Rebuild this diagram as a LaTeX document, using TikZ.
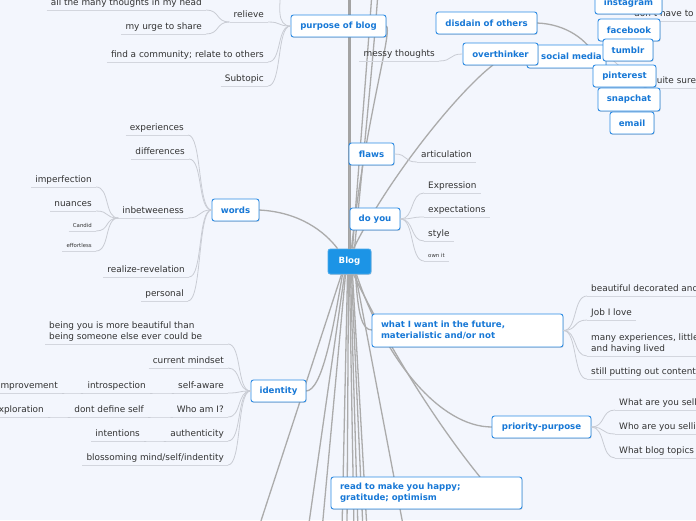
\documentclass[tikz,border=0pt]{standalone}
\usepackage{fontspec}
\setmainfont{DejaVu Sans}
\usetikzlibrary{shadows,calc}
\definecolor{bgc}{HTML}{F3F6FD}
\definecolor{boxb}{HTML}{2C8BE4}
\definecolor{boxt}{HTML}{1778D6}
\definecolor{blogc}{HTML}{1C94E6}
\definecolor{maing}{HTML}{ABABAB}
\definecolor{trunkg}{HTML}{A3A3A3}
\definecolor{clc}{HTML}{C9CCD4}
\definecolor{ulc}{HTML}{D3D6DE}
\definecolor{leafc}{HTML}{333333}
\newcommand\leaffont{\fontsize{8.9}{11}\selectfont}
\newcommand\tinyleaffont{\fontsize{5.4}{6.5}\selectfont}
\newcommand\boxfont{\bfseries\fontsize{8.6}{11}\selectfont}
\tikzset{
  leaf/.style={font=\leaffont, text=leafc, inner xsep=4pt, inner ysep=2pt, text height=6.6pt, text depth=1.9pt},
  leaftwo/.style={font=\leaffont, text=leafc, inner xsep=4pt, inner ysep=2pt, align=left},
  tinyleaf/.style={leaf, font=\tinyleaffont, text height=4.2pt, text depth=1.2pt},
  ul/.style={draw=ulc, line width=1pt},
  cl/.style={draw=clc, line width=0.8pt},
  mainedge/.style={draw=maing, line width=1.3pt},
  trunk/.style={draw=trunkg, line width=3pt},
  box/.style={draw=boxb, line width=0.9pt, fill=white, rounded corners=2.5pt, text=boxt, font=\boxfont,
    inner sep=0pt, minimum height=22pt,
    drop shadow={shadow xshift=0.6pt, shadow yshift=-0.9pt, opacity=0.25, fill=black!60}},
  widebox/.style={box, inner xsep=9pt, text width=173pt, align=left},
}
\newcommand\leafLeft[5][leaf]{\node[#1,anchor=south east] (#2) at (#3,#4) {#5}; \draw[ul] (#2.south west) -- (#2.south east);}
\newcommand\leafRight[5][leaf]{\node[#1,anchor=south west] (#2) at (#3,#4) {#5}; \draw[ul] (#2.south west) -- (#2.south east);}
\newcommand\conL[2]{\draw[cl] (#1) .. controls +(-14,0) and +(14,0) .. (#2);}
\newcommand\conR[2]{\draw[cl] (#1) .. controls +(14,0) and +(-14,0) .. (#2);}
\begin{document}
\begin{tikzpicture}[x=1pt,y=-1pt]
\useasboundingbox (0,0) rectangle (696,520);
\fill[bgc] (0,0) rectangle (696,520);

% ---------- nodes (placed first, drawn on top later via layering order below)
% We define coordinates for free ends
\coordinate (topA) at (349.5,-8);
\coordinate (topB) at (372,-8);
\coordinate (topC) at (378,-8);
\coordinate (pup) at (281,-12);
\coordinate (b1) at (258,530);
\coordinate (b2) at (308,530);
\coordinate (b3) at (322,530);
\coordinate (b4) at (342,530);
\coordinate (b5) at (347,530);
\coordinate (b6) at (354,530);
\coordinate (b7) at (358,530);
\coordinate (b8) at (363,530);
\coordinate (b9) at (367,530);
\coordinate (b10) at (404,530);

% invisible placeholders to name the boxes before edges
\path
  (349.5,261.5) coordinate (cBlog)
  (338.5,26) coordinate (cPurpose)
  (486.5,23) coordinate (cDisdain)
  (500.5,54) coordinate (cOver)
  (566.5,56.5) coordinate (cSocial)
  (371.5,154) coordinate (cFlaws)
  (375,219) coordinate (cDoyou)
  (235.5,210) coordinate (cWords)
  (278.5,391) coordinate (cIdentity)
  (467.5,330.5) coordinate (cWant)
  (541.5,427) coordinate (cPriority)
  (426.5,493) coordinate (cRead);

\node[box, minimum width=43pt, minimum height=25pt, fill=blogc, draw=blogc!80!white, text=white] (Blog) at (cBlog) {Blog};

% ---------- main edges from Blog
\draw[trunk] (Blog.north) -- (topA);
\draw[mainedge] ([xshift=3pt]Blog.north) .. controls (360,150) and (368,50) .. (topB);
\draw[mainedge] ([xshift=5pt]Blog.north) .. controls (364,150) and (374,50) .. (topC);
\draw[mainedge] ([xshift=2pt]Blog.north) .. controls (365,120) and (394,27) .. (386,26) coordinate (purposeEnd);
\draw[mainedge] ([xshift=4pt]Blog.north) .. controls (390,175) and (460,90) .. (493,65) coordinate (overEnd);
\draw[mainedge] ([xshift=-12pt]Blog.north) .. controls (325,232) and (300,212) .. (259,210) coordinate (wordsEnd);
\draw[mainedge] ([xshift=-7pt]Blog.south) .. controls (333,330) and (322,391) .. (306,391) coordinate (identityEnd);
\draw[mainedge] ([xshift=6pt]Blog.south) .. controls (358,315) and (362,330) .. (372,330) coordinate (wantEnd);
\draw[mainedge] ([xshift=7pt]Blog.south) .. controls (385,360) and (440,427) .. (492,427) coordinate (priorityEnd);
\draw[mainedge] ([xshift=4pt]Blog.south) .. controls (400,370) and (450,440) .. (480,477) coordinate (readEnd);
\draw[mainedge] ([xshift=-8pt]Blog.south) -- (b1);
\draw[mainedge] ([xshift=-5pt]Blog.south) -- (b2);
\draw[mainedge] ([xshift=-4pt]Blog.south) -- (b3);
\draw[mainedge] ([xshift=-2pt]Blog.south) -- (b4);
\draw[mainedge] ([xshift=-1pt]Blog.south) -- (b5);
\draw[mainedge] ([xshift=0pt]Blog.south) -- (b6);
\draw[mainedge] ([xshift=1pt]Blog.south) -- (b7);
\draw[mainedge] ([xshift=2pt]Blog.south) -- (b8);
\draw[mainedge] ([xshift=3pt]Blog.south) -- (b9);
\draw[mainedge] ([xshift=6pt]Blog.south) -- (b10);
\draw[mainedge] (Blog.north) -- (cFlaws -| Blog.north);
\draw[mainedge] (486.5,23) ++(50.5,0) .. controls (566,24) and (588,40) .. (596,58);

% ---------- boxes
\node[box, minimum width=95pt] (purpose) at (cPurpose) {purpose of blog};
\node[box, minimum width=101pt] (disdain) at (cDisdain) {disdain of others};
\node[box, minimum width=79pt, minimum height=23pt] (social) at (cSocial) {\hspace*{10pt}social media};
\node[box, minimum width=75pt] (over) at (cOver) {overthinker};
\node[box, minimum width=45pt] (flaws) at (cFlaws) {flaws};
\node[box, minimum width=50pt] (doyou) at (cDoyou) {do you};
\node[box, minimum width=47pt] (words) at (cWords) {words};
\node[box, minimum width=55pt] (identity) at (cIdentity) {identity};
\node[widebox, minimum height=33pt] (want) at (cWant) {what I want in the future,\\materialistic and/or not};
\node[box, minimum width=99pt] (priority) at (cPriority) {priority-purpose};
\node[widebox, minimum height=32pt] (read) at (cRead) {read to make you happy;\\gratitude; optimism};

% ---------- purpose of blog children
\leafLeft{relieve}{268}{22}{relieve}
\leafLeft{allthoughts}{206}{10}{all the many thoughts in my head}
\leafLeft{urge}{206}{34}{my urge to share}
\leafLeft{community}{268}{62}{find a community; relate to others}
\leafLeft{subtopic}{268}{86}{Subtopic}
\conL{purpose.west}{relieve.south east}
\conL{purpose.west}{community.south east}
\conL{purpose.west}{subtopic.south east}
\draw[cl] (purpose.west) .. controls (276,26) and (280,5) .. (pup);
\conL{relieve.south west}{allthoughts.south east}
\conL{relieve.south west}{urge.south east}

% ---------- overthinker child
\leafLeft{messy}{439}{61}{messy thoughts}
\conL{over.west}{messy.south east}

% ---------- flaws / do you children
\leafRight{artic}{417}{162}{articulation}
\conR{flaws.east}{artic.south west}
\leafRight{expression}{424}{193}{Expression}
\leafRight{expect}{424}{217}{expectations}
\leafRight{style}{424}{241}{style}
\leafRight[tinyleaf]{ownit}{424}{261}{own it}
\conR{doyou.east}{expression.south west}
\conR{doyou.east}{expect.south west}
\conR{doyou.east}{style.south west}
\conR{doyou.east}{ownit.south west}

% ---------- words children
\leafLeft{experiences}{188}{135}{experiences}
\leafLeft{differences}{189}{159}{differences}
\leafLeft{inbetween}{188}{218}{inbetweeness}
\leafLeft{realize}{189}{277}{realize-revelation}
\leafLeft{personal}{188}{301}{personal}
\conL{words.west}{experiences.south east}
\conL{words.west}{differences.south east}
\conL{words.west}{inbetween.south east}
\conL{words.west}{realize.south east}
\conL{words.west}{personal.south east}
\leafLeft{imperfection}{96}{187}{imperfection}
\leafLeft{nuances}{96}{211}{nuances}
\leafLeft[tinyleaf]{candid}{96}{231}{Candid}
\leafLeft[tinyleaf]{effortless}{96}{251}{effortless}
\conL{inbetween.south west}{imperfection.south east}
\conL{inbetween.south west}{nuances.south east}
\conL{inbetween.south west}{candid.south east}
\conL{inbetween.south west}{effortless.south east}

% ---------- identity children
\node[leaftwo, anchor=south west] (beingyou) at (45,344) {being you is more beautiful than\\being someone else ever could be};
\leafLeft{current}{228}{368}{current mindset}
\leafLeft{selfaware}{228}{393}{self-aware}
\leafLeft{whoami}{228}{417}{Who am I?}
\leafLeft{authentic}{228}{441}{authenticity}
\leafLeft{blossom}{228}{465}{blossoming mind/self/indentity}
\draw[ul] (beingyou.south west) -- (beingyou.south west -| current.south east);
\conL{identity.west}{beingyou.south west -| current.south east}
\conL{identity.west}{current.south east}
\conL{identity.west}{selfaware.south east}
\conL{identity.west}{whoami.south east}
\conL{identity.west}{authentic.south east}
\conL{identity.west}{blossom.south east}
\leafLeft{introspect}{150}{393}{introspection}
\leafLeft{improve}{62}{393}{improvement}
\leafLeft{dontdefine}{148}{417}{dont define self}
\leafLeft{explore}{48}{417}{exploration}
\leafLeft{intentions}{144}{441}{intentions}
\conL{selfaware.south west}{introspect.south east}
\conL{introspect.south west}{improve.south east}
\conL{whoami.south west}{dontdefine.south east}
\conL{dontdefine.south west}{explore.south east}
\conL{authentic.south west}{intentions.south east}

% ---------- what I want children
\leafRight{beautiful}{587}{296}{beautiful decorated and cozy}
\leafRight{job}{587}{320}{Job I love}
\node[leaftwo, anchor=south west] (manyexp) at (587,356) {many experiences, little\\and having lived};
\draw[ul] (manyexp.south west) -- (700,356);
\leafRight{still}{587}{379}{still putting out content}
\conR{want.east}{beautiful.south west}
\conR{want.east}{job.south west}
\conR{want.east}{manyexp.south west}
\conR{want.east}{still.south west}

% ---------- priority-purpose children
\leafRight{whatsell}{615}{410}{What are you selling}
\leafRight{whosell}{615}{434}{Who are you selling to}
\leafRight{topics}{615}{458}{What blog topics}
\conR{priority.east}{whatsell.south west}
\conR{priority.east}{whosell.south west}
\conR{priority.east}{topics.south west}

% ---------- social media leaves and boxes
\leafRight{donthave}{630}{21}{don't have to}
\leafRight{quitesure}{647}{88}{quite sure}
\draw[cl] (social.east) .. controls +(6,0) and +(-4,0) .. (donthave.south west);
\draw[cl] (social.east) .. controls +(6,0) and +(-8,0) .. (quitesure.south west);
\node[box, minimum width=67pt] (instagram) at (628.5,3) {instagram};
\node[box, minimum width=62pt] (facebook) at (629,30) {facebook};
\node[box, minimum width=50pt] (tumblr) at (628,50) {tumblr};
\node[box, minimum width=63pt] (pinterest) at (624.5,76) {pinterest};
\node[box, minimum width=62pt, minimum height=23pt] (snapchat) at (629,99.5) {snapchat};
\node[box, minimum width=44pt] (email) at (632,123) {email};
\end{tikzpicture}
\end{document}
